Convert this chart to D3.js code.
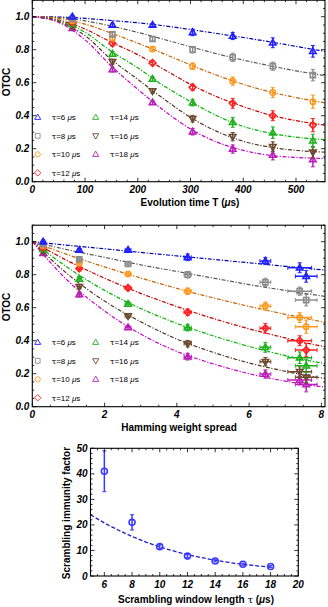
<!DOCTYPE html>
<html>
<head>
<meta charset="utf-8">
<script src="https://cdn.jsdelivr.net/npm/d3@7"></script>
<style>
body { margin: 0; background: #fff; }
svg { display: block; font-family: "Liberation Sans", Arial, sans-serif; }
.tick-label { font-size: 10px; font-weight: bold; font-style: italic; }
.axis-title { font-size: 10px; font-weight: bold; }
.legend-text { font-size: 8px; }
</style>
</head>
<body>
<svg id="chart" width="328" height="607"></svg>
<script>
// ---- data ----
const taus = [6, 8, 10, 12, 14, 16, 18];
const colors = ["#2020ff", "#8c8c8c", "#ff9a20", "#ff2020", "#20b020", "#6e4b30", "#b820b8"];
const fitColors = ["#0000b4", "#5a5a5a", "#c86400", "#c80000", "#00b400", "#553a25", "#c800c8"];
const shapes = ["up", "square", "circle", "diamond", "up", "down", "up"];

const evolutionTimes = [76, 152, 228, 304, 380, 456, 532];
const hammingSpread = [0.3, 1.3, 2.65, 4.3, 6.45, 7.4, 7.58];
const hammingErr = [0.04, 0.05, 0.08, 0.1, 0.15, 0.33, 0.3];

// OTOC per tau (same values in both top panels)
const otocTau6 = [1.0, 0.95, 0.95, 0.905, 0.883, 0.842, 0.79];
const otocTau8 = [0.985, 0.893, 0.865, 0.80, 0.754, 0.70, 0.646];
const otocTau10 = [0.975, 0.87, 0.804, 0.70, 0.61, 0.54, 0.485];
const otocTau12 = [0.965, 0.838, 0.72, 0.572, 0.475, 0.40, 0.343];
const otocTau14 = [0.955, 0.774, 0.622, 0.479, 0.36, 0.297, 0.248];
const otocTau16 = [0.94, 0.727, 0.55, 0.382, 0.273, 0.212, 0.178];
const otocTau18 = [0.93, 0.68, 0.48, 0.303, 0.198, 0.162, 0.135];

const errTau6 = [0.01, 0.01, 0.01, 0.02, 0.022, 0.03, 0.035];
const errTau8 = [0.01, 0.012, 0.012, 0.02, 0.025, 0.025, 0.035];
const errTau10 = [0.01, 0.015, 0.012, 0.02, 0.025, 0.03, 0.04];
const errTau12 = [0.01, 0.015, 0.012, 0.02, 0.03, 0.03, 0.04];
const errTau14 = [0.01, 0.015, 0.015, 0.02, 0.03, 0.035, 0.04];
const errTau16 = [0.01, 0.015, 0.015, 0.02, 0.025, 0.03, 0.035];
const errTau18 = [0.01, 0.015, 0.012, 0.02, 0.025, 0.03, 0.045];

// fitted curves
const fitTimes = [0, 50, 100, 150, 200, 250, 300, 350, 400, 450, 500, 555];
const timeFits = [
	[1, 0.998, 0.99, 0.977, 0.963, 0.945, 0.922, 0.898, 0.874, 0.848, 0.82, 0.79],
	[1, 0.995, 0.975, 0.943, 0.905, 0.862, 0.818, 0.775, 0.737, 0.703, 0.672, 0.643],
	[1, 0.99, 0.955, 0.9, 0.84, 0.775, 0.708, 0.645, 0.59, 0.545, 0.51, 0.478],
	[1, 0.98, 0.925, 0.845, 0.77, 0.68, 0.59, 0.515, 0.455, 0.405, 0.37, 0.343],
	[1, 0.975, 0.905, 0.79, 0.69, 0.58, 0.485, 0.4, 0.335, 0.295, 0.27, 0.255],
	[1, 0.97, 0.885, 0.74, 0.62, 0.5, 0.39, 0.305, 0.245, 0.21, 0.19, 0.179],
	[1, 0.965, 0.86, 0.70, 0.56, 0.43, 0.32, 0.24, 0.19, 0.16, 0.147, 0.141]
];
const fitSpread = [0, 1, 2, 3, 4, 5, 6, 7, 8, 8.1];
const spreadFits = [
	[1, 0.978, 0.957, 0.935, 0.914, 0.893, 0.872, 0.851, 0.83, 0.828],
	[1, 0.95, 0.905, 0.86, 0.82, 0.78, 0.74, 0.705, 0.672, 0.669],
	[1, 0.92, 0.847, 0.78, 0.717, 0.66, 0.608, 0.56, 0.515, 0.51],
	[1, 0.882, 0.779, 0.687, 0.607, 0.535, 0.472, 0.417, 0.368, 0.364],
	[1, 0.84, 0.705, 0.595, 0.505, 0.43, 0.365, 0.31, 0.265, 0.261],
	[1, 0.8, 0.64, 0.515, 0.41, 0.33, 0.265, 0.215, 0.175, 0.172],
	[1, 0.76, 0.58, 0.44, 0.335, 0.26, 0.2, 0.155, 0.122, 0.12]
];

// bottom panel
const windowLengths = [6, 8, 10, 12, 14, 16, 18];
const immunity = [41, 21, 11.5, 7.8, 5.9, 4.6, 3.7];
const immunityErr = [8, 3, 0.8, 0.6, 0.4, 0.4, 0.4];
const fitWindow = [5, 6, 7, 8, 9, 10, 11, 12, 13, 14, 15, 16, 17, 18];
const fitImmunity = [24, 20.8, 18, 15.5, 13.3, 11.4, 9.8, 8.4, 7.2, 6.2, 5.3, 4.6, 4.0, 3.5];

const otocs = [otocTau6, otocTau8, otocTau10, otocTau12, otocTau14, otocTau16, otocTau18];
const otocErrs = [errTau6, errTau8, errTau10, errTau12, errTau14, errTau16, errTau18];

// ---- drawing ----
const svg = d3.select("#chart");

function markerPath(shape, r) {
	let p = d3.path();
	if (shape === "up") {
		p.moveTo(0, -r); p.lineTo(r * 0.95, r * 0.65); p.lineTo(-r * 0.95, r * 0.65); p.closePath();
	} else if (shape === "down") {
		p.moveTo(0, r); p.lineTo(r * 0.95, -r * 0.65); p.lineTo(-r * 0.95, -r * 0.65); p.closePath();
	} else if (shape === "square") {
		p.rect(-r * 0.75, -r * 0.75, r * 1.5, r * 1.5);
	} else if (shape === "diamond") {
		p.moveTo(0, -r); p.lineTo(r, 0); p.lineTo(0, r); p.lineTo(-r, 0); p.closePath();
	} else {
		p.arc(0, 0, r * 0.8, 0, 2 * Math.PI);
	}
	return p.toString();
}

function stepRange(lo, hi, step) {
	let out = [];
	for (let v = Math.ceil(lo / step - 1e-9) * step; v <= hi + 1e-9; v += step) out.push(+v.toFixed(6));
	return out;
}

// Mathematica-like frame with inward ticks on all four sides
function frame(g, xs, ys, opt) {
	let [xa, xb] = xs.range();
	let [yb, yt] = ys.range();
	let xd = xs.domain(), yd = ys.domain();

	let ticks = g.append("g").attr("stroke", "#000").attr("stroke-width", 0.8);
	stepRange(xd[0], xd[1], opt.xMinor).forEach(function(v) {
		let major = Math.abs(v / opt.xMajor - Math.round(v / opt.xMajor)) < 1e-6;
		let len = major ? 4 : 2;
		let x = xs(v);
		ticks.append("line").attr("x1", x).attr("x2", x).attr("y1", yb).attr("y2", yb - len);
		ticks.append("line").attr("x1", x).attr("x2", x).attr("y1", yt).attr("y2", yt + len);
	});
	stepRange(yd[0], yd[1], opt.yMinor).forEach(function(v) {
		let major = Math.abs(v / opt.yMajor - Math.round(v / opt.yMajor)) < 1e-6;
		let len = major ? 4 : 2;
		let y = ys(v);
		ticks.append("line").attr("y1", y).attr("y2", y).attr("x1", xa).attr("x2", xa + len);
		ticks.append("line").attr("y1", y).attr("y2", y).attr("x1", xb).attr("x2", xb - len);
	});

	g.append("rect")
		.attr("x", xa).attr("y", yt)
		.attr("width", xb - xa).attr("height", yb - yt)
		.attr("fill", "none").attr("stroke", "#000").attr("stroke-width", 1.1);

	g.selectAll(".xl").data(opt.xLabels).enter().append("text")
		.attr("class", "tick-label")
		.attr("x", function(d) { return xs(d); })
		.attr("y", yb + 11.5)
		.attr("text-anchor", "middle")
		.text(opt.xFmt);

	g.selectAll(".yl").data(opt.yLabels).enter().append("text")
		.attr("class", "tick-label")
		.attr("x", xa - 3)
		.attr("y", function(d) { return ys(d) + 3.5; })
		.attr("text-anchor", "end")
		.text(opt.yFmt);
}

function errorBar(g, x1, y1, x2, y2, color, vertical) {
	g.append("line").attr("x1", x1).attr("y1", y1).attr("x2", x2).attr("y2", y2)
		.attr("stroke", color).attr("stroke-width", 1.5);
	[[x1, y1], [x2, y2]].forEach(function(e) {
		if (vertical) {
			g.append("line").attr("x1", e[0] - 2).attr("x2", e[0] + 2).attr("y1", e[1]).attr("y2", e[1])
				.attr("stroke", color).attr("stroke-width", 1);
		} else {
			g.append("line").attr("x1", e[0]).attr("x2", e[0]).attr("y1", e[1] - 2).attr("y2", e[1] + 2)
				.attr("stroke", color).attr("stroke-width", 1);
		}
	});
}

function otocPanel(top, xs, xValues, xErr, fitX, fits, title, titleX, xOpt) {
	let ys = d3.scaleLinear().domain([0, 1.1]).range([top + 181.7, top + 0.2]);
	let g = svg.append("g");
	let clipId = "clip" + top;
	svg.append("clipPath").attr("id", clipId).append("rect")
		.attr("x", xs.range()[0]).attr("y", ys.range()[1])
		.attr("width", xs.range()[1] - xs.range()[0]).attr("height", ys.range()[0] - ys.range()[1]);

	let plot = g.append("g").attr("clip-path", "url(#" + clipId + ")");

	// fits
	let line = d3.line().curve(d3.curveMonotoneX);
	fits.forEach(function(f, i) {
		plot.append("path")
			.attr("d", line(f.map(function(v, j) { return [xs(fitX[j]), ys(v)]; })))
			.attr("fill", "none")
			.attr("stroke", fitColors[i])
			.attr("stroke-width", 1.2)
			.attr("stroke-dasharray", "4,1.6,1.2,1.6");
	});

	// points, drawn from the last series so blue sits on top
	d3.range(taus.length - 1, -1, -1).forEach(function(i) {
		let s = plot.append("g");
		otocs[i].forEach(function(v, j) {
			let x = xs(xValues[j]), y = ys(v);
			let e = otocErrs[i][j];
			errorBar(s, x, ys(v - e), x, ys(v + e), colors[i], true);
			if (xErr) errorBar(s, xs(xValues[j] - xErr[j]), y, xs(xValues[j] + xErr[j]), y, colors[i], false);
			s.append("path")
				.attr("transform", "translate(" + x + "," + y + ")")
				.attr("d", markerPath(shapes[i], 3.4))
				.attr("fill", "none")
				.attr("stroke", colors[i])
				.attr("stroke-width", 1.6);
		});
	});

	frame(g, xs, ys, Object.assign({
		yMajor: 0.2, yMinor: 0.05,
		yLabels: [0, 0.2, 0.4, 0.6, 0.8, 1.0],
		yFmt: d3.format(".1f")
	}, xOpt));

	// legend
	let lg = g.append("g");
	taus.forEach(function(t, i) {
		let col = i < 4 ? 0 : 1;
		let row = i < 4 ? i : i - 4;
		let ly = top + 117.3 + row * 18.5;
		lg.append("path")
			.attr("transform", "translate(" + [37.7, 95.7][col] + "," + ly + ")")
			.attr("d", markerPath(shapes[i], 3.2))
			.attr("fill", "none").attr("stroke", colors[i]).attr("stroke-width", 0.9);
		let tx = lg.append("text").attr("class", "legend-text")
			.attr("x", [51.7, 110][col]).attr("y", ly + 3);
		tx.append("tspan").attr("font-family", "'DejaVu Serif', serif").text("τ");
		tx.append("tspan").text("=" + t + " ");
		tx.append("tspan").attr("font-style", "italic").text("μ");
		tx.append("tspan").text("s");
	});

	g.append("text").attr("class", "axis-title")
		.attr("transform", "translate(10," + (top + 82) + ") rotate(-90)")
		.attr("text-anchor", "middle").text("OTOC");

	let tt = g.append("text").attr("class", "axis-title")
		.attr("x", titleX).attr("y", top + 205.5).attr("text-anchor", "middle");
	title(tt);
}

// panel 1: evolution time
let xTime = d3.scaleLinear().domain([0, 555]).range([32.3, 325]);
otocPanel(0, xTime, evolutionTimes, null, fitTimes, timeFits, function(t) {
	t.append("tspan").text("Evolution time T (");
	t.append("tspan").attr("font-style", "italic").text("μ");
	t.append("tspan").text("s)");
}, 190, {
	xMajor: 100, xMinor: 20,
	xLabels: [0, 100, 200, 300, 400, 500],
	xFmt: d3.format("d")
});

// panel 2: hamming weight spread
let xSpread = d3.scaleLinear().domain([0, 8.1]).range([32.3, 325]);
otocPanel(225, xSpread, hammingSpread, hammingErr, fitSpread, spreadFits, function(t) {
	t.text("Hamming weight spread");
}, 179, {
	xMajor: 2, xMinor: 0.5,
	xLabels: [0, 2, 4, 6, 8],
	xFmt: d3.format("d")
});

// panel 3: scrambling immunity factor
(function() {
	let xs = d3.scaleLinear().domain([5, 20]).range([90.5, 298.3]);
	let ys = d3.scaleLinear().domain([0, 50]).range([576, 448.3]);
	let g = svg.append("g");
	let blue = "#3a3aff";

	g.append("path")
		.attr("d", d3.line().curve(d3.curveMonotoneX)(fitImmunity.map(function(v, j) { return [xs(fitWindow[j]), ys(v)]; })))
		.attr("fill", "none")
		.attr("stroke", "#1e1ec8")
		.attr("stroke-width", 1.3)
		.attr("stroke-dasharray", "4,2");

	windowLengths.forEach(function(w, j) {
		let x = xs(w);
		errorBar(g, x, ys(immunity[j] - immunityErr[j]), x, ys(immunity[j] + immunityErr[j]), blue, true);
		g.append("circle")
			.attr("cx", x).attr("cy", ys(immunity[j])).attr("r", 3)
			.attr("fill", "none").attr("stroke", blue).attr("stroke-width", 1.6);
	});

	frame(g, xs, ys, {
		xMajor: 2, xMinor: 0.5, yMajor: 10, yMinor: 2,
		xLabels: d3.range(6, 21, 2),
		yLabels: d3.range(0, 51, 10),
		xFmt: d3.format("d"), yFmt: d3.format("d")
	});

	g.append("text").attr("class", "axis-title")
		.attr("transform", "translate(70,513) rotate(-90)")
		.attr("text-anchor", "middle").text("Scrambling immunity factor");

	let t = g.append("text").attr("class", "axis-title")
		.attr("x", 196).attr("y", 603).attr("text-anchor", "middle");
	t.append("tspan").text("Scrambling window length ");
	t.append("tspan").attr("font-family", "'DejaVu Serif', serif").attr("font-weight", "normal").text("τ");
	t.append("tspan").text(" (");
	t.append("tspan").attr("font-style", "italic").text("μ");
	t.append("tspan").text("s)");
})();
</script>
</body>
</html>
